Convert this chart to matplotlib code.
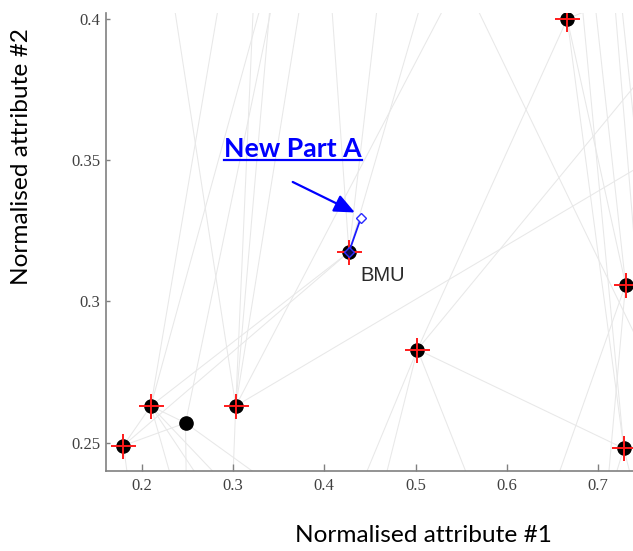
import matplotlib
matplotlib.use("Agg")
import matplotlib.pyplot as plt
from matplotlib.lines import Line2D

# ---- data (normalised attribute #1, #2) ----
# SOM neurons visible in the view
node_x = [0.180, 0.210, 0.303, 0.502, 0.666, 0.730, 0.728]   # with red cross
node_y = [0.249, 0.263, 0.263, 0.283, 0.400, 0.306, 0.248]
plain_x = [0.248]                                           # without red cross
plain_y = [0.257]
bmu_x, bmu_y = 0.427, 0.3175
new_x, new_y = 0.440, 0.3295

# grey SOM-lattice connections (start x, start y, end x, end y)
seg_x0 = [0.210, 0.210, 0.303, 0.303, 0.303, 0.303, 0.303, 0.427, 0.427, 0.427,
          0.558, 0.666, 0.681, 0.695, 0.717, 0.724, 0.248,
          0.666, 0.666, 0.666, 0.502, 0.502, 0.303,
          0.180, 0.180, 0.210, 0.180, 0.210,
          0.180, 0.210, 0.210, 0.210, 0.248, 0.248, 0.303, 0.502, 0.502, 0.502,
          0.730, 0.730, 0.728, 0.728]
seg_y0 = [0.263, 0.263, 0.263, 0.263, 0.263, 0.263, 0.263, 0.3175, 0.3175, 0.3175,
          0.410, 0.400, 0.410, 0.410, 0.410, 0.410, 0.257,
          0.400, 0.400, 0.400, 0.283, 0.283, 0.263,
          0.249, 0.249, 0.263, 0.249, 0.263,
          0.249, 0.263, 0.263, 0.263, 0.257, 0.257, 0.263, 0.283, 0.283, 0.283,
          0.306, 0.306, 0.248, 0.248]
seg_x1 = [0.287, 0.335, 0.233, 0.323, 0.342, 0.376, 0.541, 0.510, 0.407, 0.460,
          0.757, 0.740, 0.728, 0.730, 0.745, 0.750, 0.346,
          0.502, 0.730, 0.728, 0.728, 0.757, 0.757,
          0.210, 0.248, 0.248, 0.427, 0.427,
          0.188, 0.239, 0.278, 0.307, 0.249, 0.364, 0.299, 0.434, 0.461, 0.567,
          0.647, 0.709, 0.711, 0.742]
seg_y1 = [0.410, 0.410, 0.410, 0.410, 0.410, 0.410, 0.410, 0.410, 0.410, 0.410,
          0.277, 0.410, 0.248, 0.306, 0.300, 0.330, 0.410,
          0.283, 0.306, 0.248, 0.248, 0.383, 0.350,
          0.263, 0.257, 0.257, 0.3175, 0.3175,
          0.230, 0.230, 0.230, 0.230, 0.230, 0.230, 0.230, 0.230, 0.230, 0.230,
          0.230, 0.230, 0.230, 0.230]

x_ticks = [0.2, 0.3, 0.4, 0.5, 0.6, 0.7]
x_tick_labels = ["0.2", "0.3", "0.4", "0.5", "0.6", "0.7"]
y_ticks = [0.25, 0.30, 0.35, 0.40]
y_tick_labels = ["0.25", "0.3", "0.35", "0.4"]

arrow_from = (0.3654, 0.3423)
arrow_to = (0.4335, 0.3315)

# ---- figure ----
W, H = 633, 551
fig = plt.figure(figsize=(W / 100, H / 100), dpi=100)
ax = fig.add_axes([106 / W, (H - 471) / H, (W - 106) / W, (471 - 13) / H])
ax.set_xlim(0.1609, 0.7381)
ax.set_ylim(0.240, 0.4021)

for a, b, c, d in zip(seg_x0, seg_y0, seg_x1, seg_y1):
    ax.plot([a, c], [b, d], color="#e8e8e8", lw=0.75, zorder=1, clip_on=True)

ax.plot(node_x + plain_x, node_y + plain_y, "o", color="black", ms=9.5, zorder=3)
ax.plot(node_x, node_y, "+", color="#ff1a1a", ms=18, mew=1.4, zorder=4)

# BMU and new part
ax.plot([bmu_x, new_x], [bmu_y, new_y], color="#1a1aff", lw=1.3, zorder=5)
ax.plot([bmu_x], [bmu_y], "o", color="black", ms=9.5, zorder=4)
ax.plot([bmu_x], [bmu_y], "+", color="#ff1a1a", ms=18, mew=1.4, zorder=4)
ax.plot([bmu_x], [bmu_y], "D", mfc="#0a0a50", mec="#3030ff", ms=5, mew=1, zorder=6)
ax.plot([new_x], [new_y], "D", mfc="white", mec="#2a2aff", ms=5, mew=1, zorder=6)

ax.annotate("", xy=arrow_to, xytext=arrow_from,
            arrowprops=dict(arrowstyle="-|>,head_length=1.25,head_width=0.55",
                            color="#0000ff", lw=1.6, shrinkA=0, shrinkB=0),
            zorder=7)

txt = ax.text(0.2902, 0.3512, "New Part A", color="#0000ff", fontsize=19.2,
              fontweight="bold", family=["Lato", "DejaVu Sans"], ha="left",
              va="baseline", zorder=8)
ax.text(0.4391, 0.3071, "BMU", color="#2a2a2a", fontsize=14.5,
        family=["Liberation Sans", "DejaVu Sans"], ha="left", va="baseline", zorder=8)

# axes styling
for s in ["top", "right"]:
    ax.spines[s].set_visible(False)
for s in ["left", "bottom"]:
    ax.spines[s].set_color("#808080")
    ax.spines[s].set_linewidth(1.2)
ax.set_xticks(x_ticks)
ax.set_xticklabels(x_tick_labels)
ax.set_yticks(y_ticks)
ax.set_yticklabels(y_tick_labels)
ax.tick_params(axis="x", direction="in", length=5, width=1, color="#808080", pad=5,
               labelsize=12, labelcolor="#404040")
ax.tick_params(axis="y", direction="in", length=3, width=1, color="#808080", pad=4,
               labelsize=12, labelcolor="#404040")
for lab in ax.get_xticklabels() + ax.get_yticklabels():
    lab.set_family(["Liberation Serif", "DejaVu Serif"])

fig.text(22 / W, 1 - 157 / H, "Normalised attribute #2", rotation=90, ha="center",
         va="center", fontsize=17.6, family=["Lato", "DejaVu Sans"], color="black")
fig.text(423 / W, 1 - 536 / H, "Normalised attribute #1", ha="center",
         va="center", fontsize=17.6, family=["Lato", "DejaVu Sans"], color="black")

# underline for the annotation label
fig.canvas.draw()
bb = txt.get_window_extent(renderer=fig.canvas.get_renderer())
inv = fig.transFigure.inverted()
(x0f, y0f), (x1f, _) = inv.transform([(bb.x0, bb.y0), (bb.x1, bb.y0)])
fig.add_artist(Line2D([x0f, x1f], [y0f + 1.0 / H, y0f + 1.0 / H], transform=fig.transFigure,
                      color="#0000ff", lw=1.6))

fig.savefig("out.png", dpi=100)
